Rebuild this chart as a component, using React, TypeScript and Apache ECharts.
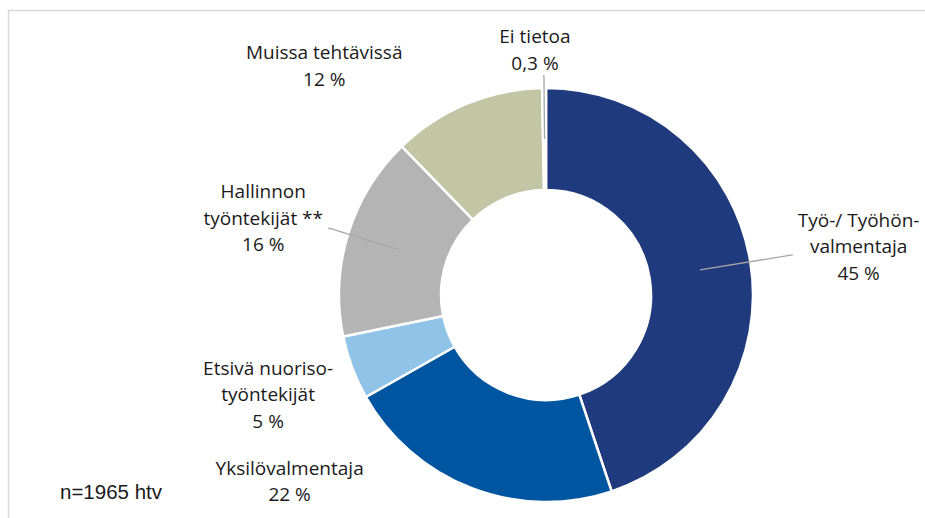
import React, { useEffect, useRef } from "react";
import * as echarts from "echarts";

// ---- data ----
const categories = [
  "Työ-/ Työhön-\nvalmentaja",
  "Yksilövalmentaja",
  "Etsivä nuoriso-\ntyöntekijät",
  "Hallinnon\ntyöntekijät **",
  "Muissa tehtävissä",
  "Ei tietoa",
];
const values = [45, 22, 5, 16, 12, 0.3];
const valueLabels = ["45 %", "22 %", "5 %", "16 %", "12 %", "0,3 %"];
const sampleNote = "n=1965 htv";

// ---- styling / label tuning (not data) ----
const colors = ["#1F3B7D", "#0055A0", "#8FC4E8", "#B4B4B4", "#C3C6A4", "#FFFFFF"];
const showLine = [true, false, false, true, false, true];
const lineLen = [92, 43, 66, 70, 92.5, 63];
const lineLen2 = [2, 106, 0, 2, 43, 1];
const labelPadding = [
  [0, 0, 18, 0],
  [0, 0, 0, 0],
  [43, 0, 0, 0],
  [0, 0, 21, 0],
  [0, 0, 0, 0],
  [0, 6, 0, 0],
];

const FONT = "'Open Sans', 'Noto Sans', sans-serif";

export default function App() {
  const ref = useRef<HTMLDivElement>(null);
  useEffect(() => {
    if (!ref.current) return;
    const chart = echarts.init(ref.current, null, { renderer: "svg" });
    const center = [546, 295];

    const ringData = categories.map((c, i) => ({
      name: c,
      value: values[i],
      itemStyle: { color: colors[i] },
    }));

    const labelData = categories.map((c, i) => ({
      name: c,
      value: values[i],
      label: { padding: labelPadding[i] },
      labelLine: { show: showLine[i], length: lineLen[i], length2: lineLen2[i] },
    }));

    chart.setOption({
      animation: false,
      backgroundColor: "#ffffff",
      graphic: [
        {
          type: "rect",
          silent: true,
          shape: { x: 8.5, y: 10.5, width: 1000, height: 600 },
          style: { fill: "none", stroke: "#D9D9D9", lineWidth: 1.5 },
        },
        {
          type: "text",
          silent: true,
          left: 60,
          top: 481,
          style: {
            text: sampleNote,
            fontFamily: "'Liberation Sans', Arial, sans-serif",
            fontSize: 20.5,
            fill: "#1a1a1a",
          },
        },
      ],
      series: [
        {
          type: "pie",
          z: 2,
          center,
          radius: [105, 207],
          startAngle: 90,
          clockwise: true,
          silent: true,
          avoidLabelOverlap: false,
          label: { show: false },
          labelLine: { show: false },
          itemStyle: { borderColor: "#ffffff", borderWidth: 2.5 },
          emphasis: { disabled: true },
          data: ringData,
        },
        {
          type: "pie",
          z: 5,
          center,
          radius: [0, 156],
          startAngle: 90,
          clockwise: true,
          silent: true,
          avoidLabelOverlap: false,
          minShowLabelAngle: 0,
          itemStyle: { color: "rgba(0,0,0,0)", borderWidth: 0 },
          emphasis: { disabled: true },
          label: {
            show: true,
            position: "outside",
            distanceToLabelLine: 5,
            formatter: (p: any) => {
              const i = p.dataIndex;
              const lines = categories[i].split("\n").concat([valueLabels[i]]);
              return lines.map((l) => "{c|" + l + "}").join("\n");
            },
            rich: {
              c: {
                align: "center",
                fontFamily: FONT,
                fontSize: 19,
                lineHeight: 26.5,
                color: "#1a1a1a",
              },
            },
          },
          labelLine: {
            show: true,
            minTurnAngle: 0,
            lineStyle: { color: "#A6A6A6", width: 1.3 },
          },
          labelLayout: (params: any) =>
            params.dataIndex === 5 ? { align: "center", verticalAlign: "bottom" } : {},
          data: labelData,
        },
      ],
    });
    return () => chart.dispose();
  }, []);
  return (
    <div
      ref={ref}
      style={{ position: "absolute", left: 0, top: 0, width: 925, height: 518 }}
    />
  );
}
